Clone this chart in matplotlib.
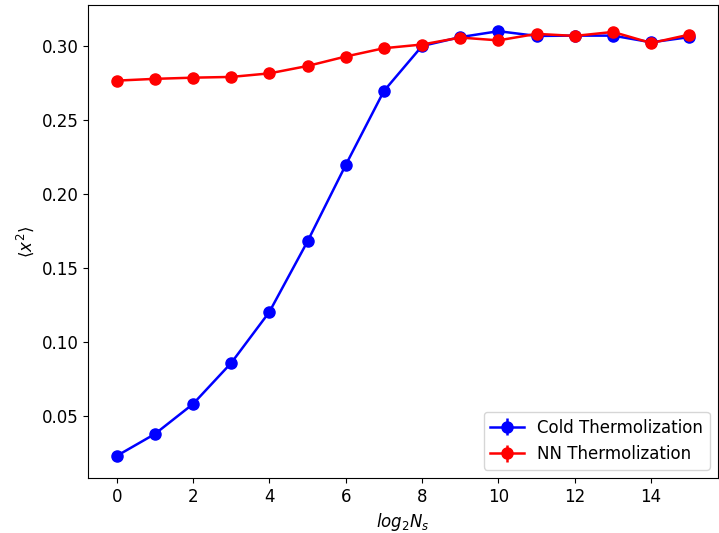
import matplotlib
matplotlib.use("Agg")
import matplotlib.pyplot as plt

log_ns = list(range(16))
cold = [0.023, 0.0378, 0.0581, 0.0858, 0.1203, 0.168, 0.2196, 0.2696,
        0.300, 0.306, 0.3100, 0.3068, 0.307, 0.307, 0.3025, 0.306]
nn = [0.2766, 0.2778, 0.2786, 0.2791, 0.2815, 0.2865, 0.2929, 0.2985,
      0.3010, 0.3057, 0.3038, 0.3082, 0.3068, 0.3095, 0.3020, 0.3077]
cold_err = [0.0005] * 16
nn_err = [0.0005] * 16

plt.rcParams["font.size"] = 12
fig = plt.figure(figsize=(7.19, 5.33), dpi=100)
ax = fig.add_axes([88 / 719, 1 - 478 / 533, 630 / 719, 473 / 533])
ax.errorbar(log_ns, cold, yerr=cold_err, fmt="-o", color="blue", ms=8, lw=1.8,
            label="Cold Thermolization")
ax.errorbar(log_ns, nn, yerr=nn_err, fmt="-o", color="red", ms=8, lw=1.8,
            label="NN Thermolization")
ax.set_ylim(0.0081, 0.3277)
ax.set_xlabel("$log_2N_s$")
ax.set_ylabel(r"$\langle x^2 \rangle$")
ax.legend(loc="lower right")
fig.savefig("out.png", dpi=100)
